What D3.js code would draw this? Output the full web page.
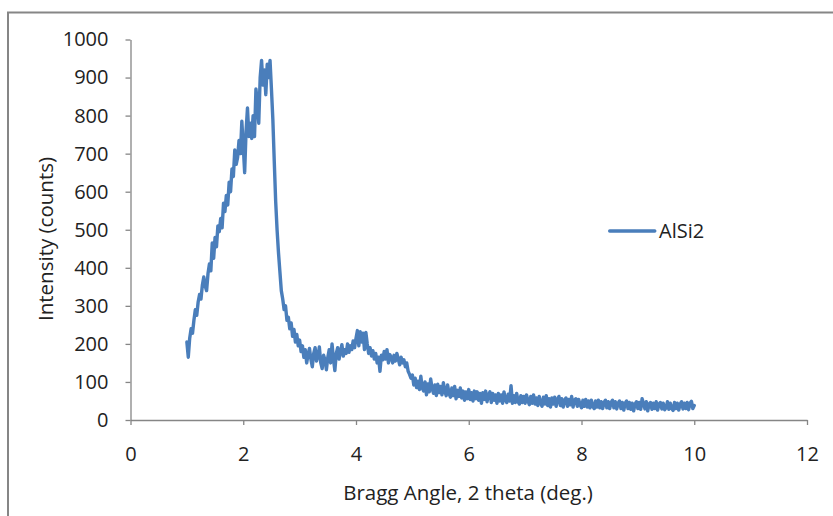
<!DOCTYPE html>
<html>
<head>
<meta charset="utf-8">
<script src="https://cdn.jsdelivr.net/npm/d3@7"></script>
<style>
  body { margin: 0; background: #fff; }
  text { font-family: "Open Sans", sans-serif; fill: #222; }
</style>
</head>
<body>
<div id="chart"></div>
<script>
// intensity, one value every 0.025 deg from 1 to 10
var angleStart = 1, angleStep = 0.025;
var intensity = [
  205,165,215,240,228,262,290,275,310,330,318,355,376,352,340,385,410,392,465,425,
  480,455,510,495,530,505,570,548,590,565,625,600,660,640,710,672,690,735,700,785,
  720,650,760,820,745,780,740,800,745,870,835,780,900,945,880,920,855,935,900,945,
  870,790,680,575,500,440,390,340,318,290,300,262,270,240,255,220,238,205,225,195,
  210,180,195,165,185,150,172,188,160,140,175,190,155,168,192,150,135,170,158,132,
  165,185,150,200,160,130,175,190,160,180,198,168,185,175,200,178,195,185,208,190,
  215,235,195,232,205,228,185,230,200,175,190,168,182,160,175,150,165,128,170,158,
  180,160,185,150,172,165,150,170,155,175,160,145,165,150,158,140,150,128,120,110,
  118,92,110,85,102,80,115,84,76,100,66,95,74,108,82,70,92,64,94,72,
  88,66,98,76,64,92,70,60,84,64,88,56,78,62,84,58,76,52,74,56,
  80,54,72,50,76,56,74,52,70,44,72,54,76,48,66,74,46,70,52,66,
  44,70,50,66,44,74,52,46,68,50,90,44,64,46,70,48,42,64,46,62,
  44,66,50,40,62,44,66,42,58,38,62,44,36,60,42,64,38,56,34,58,
  42,60,36,54,62,38,56,34,52,58,36,54,40,62,34,52,56,36,54,40,
  32,52,36,54,34,50,32,52,36,30,50,34,52,32,48,30,46,52,32,48,
  30,46,52,32,48,29,44,50,30,46,26,44,50,30,46,28,44,24,42,48,
  30,46,28,56,44,29,48,24,42,46,28,44,30,48,26,42,46,29,44,27,
  32,48,28,44,30,25,46,30,44,26,42,48,29,44,30,46,27,44,49,30,
  38
];
var xTicks = [0, 2, 4, 6, 8, 10, 12];
var yTicks = [0, 100, 200, 300, 400, 500, 600, 700, 800, 900, 1000];
var seriesName = "AlSi2";

var width = 833,
    height = 516;

var data = intensity.map(function(v, i) {
  return { angle: angleStart + i * angleStep, value: v };
});

var svg = d3.select("#chart").append("svg")
    .attr("width", width)
    .attr("height", height);

// chart area frame (runs off the right and bottom edges)
svg.append("rect")
    .attr("x", 8).attr("y", 12.5)
    .attr("width", 840).attr("height", 520)
    .attr("fill", "none")
    .attr("stroke", "#868686")
    .attr("stroke-width", 2);

var x = d3.scaleLinear().domain([0, 12]).range([130.5, 807]);
var y = d3.scaleLinear().domain([0, 1000]).range([420, 39.5]);

var xAxis = svg.append("g")
    .attr("transform", "translate(0,420)")
    .call(d3.axisBottom(x).tickValues(xTicks).tickFormat(d3.format("d"))
      .tickSize(5).tickSizeOuter(0).tickPadding(22));

var yAxis = svg.append("g")
    .attr("transform", "translate(130.5,0)")
    .call(d3.axisLeft(y).tickValues(yTicks).tickFormat(d3.format("d"))
      .tickSize(5).tickSizeOuter(0).tickPadding(17));

[xAxis, yAxis].forEach(function(a) {
  a.select(".domain").attr("stroke", "#868686").attr("stroke-width", 1.3);
  a.selectAll(".tick line").attr("stroke", "#868686").attr("stroke-width", 1.3);
  a.selectAll(".tick text")
    .style("font-family", "'Open Sans', sans-serif")
    .style("font-size", "20px")
    .attr("fill", "#222");
});

var line = d3.line()
    .x(function(d) { return x(d.angle); })
    .y(function(d) { return y(d.value); });

svg.append("path")
    .datum(data)
    .attr("d", line)
    .attr("fill", "none")
    .attr("stroke", "#4a7ebb")
    .attr("stroke-width", 3.4)
    .attr("stroke-linejoin", "round")
    .attr("stroke-linecap", "round");

// axis titles
svg.append("text")
    .attr("x", 468).attr("y", 500)
    .attr("text-anchor", "middle")
    .style("font-size", "20.5px")
    .text("Bragg Angle, 2 theta (deg.)");

svg.append("text")
    .attr("transform", "translate(53,239) rotate(-90)")
    .attr("text-anchor", "middle")
    .style("font-size", "20.5px")
    .text("Intensity (counts)");

// legend
svg.append("line")
    .attr("x1", x(8.5)).attr("x2", x(9.3))
    .attr("y1", 231).attr("y2", 231)
    .attr("stroke", "#4a7ebb")
    .attr("stroke-width", 3.4)
    .attr("stroke-linecap", "round");

svg.append("text")
    .attr("x", 659).attr("y", 238)
    .style("font-size", "20px")
    .text(seriesName);
</script>
</body>
</html>
